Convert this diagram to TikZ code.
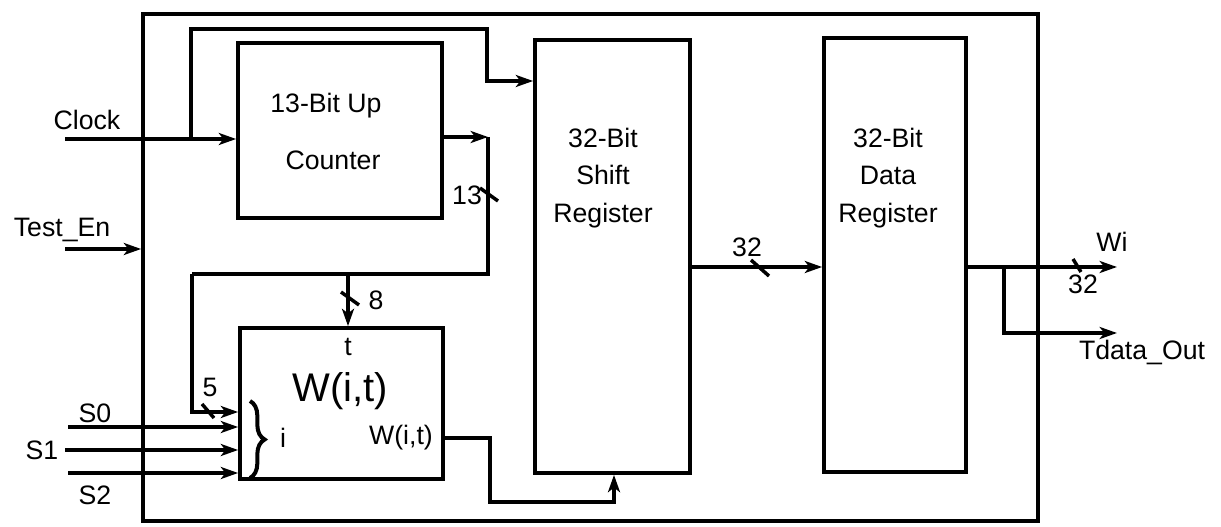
\documentclass[tikz,border=0pt]{standalone}
\usepackage{fontspec}
\setmainfont{Liberation Sans}
\usetikzlibrary{arrows.meta,fit,calc,decorations.pathreplacing}
\begin{document}
\begin{tikzpicture}[x=0.75pt,y=-0.75pt,line width=2.8pt,
  box/.style={draw,line width=2.8pt,inner sep=0pt,fit={#1}},
  arr/.style={-{Stealth[length=13pt,width=9pt,inset=3.5pt]}},
  lbl/.style={font=\fontsize{20}{24}\selectfont,inner sep=0pt},
  blk/.style={font=\fontsize{20}{28}\selectfont,inner sep=0pt,align=center},
  tick/.style={line width=2.6pt}]
\useasboundingbox (0,0) rectangle (1221,527);
% boxes
\node[box={(143,14) (1038,521)}] (outer) {};
\node[box={(238,43) (442,218)}] (cnt) {};
\node[box={(535,40) (690,473)}] (shift) {};
\node[box={(824,38) (966,472)}] (data) {};
\node[box={(240,328) (443,479)}] (wbox) {};
% block texts
\node[lbl] (cnt1) at (326,106) {13-Bit Up};
\node[lbl] (cnt2) at (333,160) {Counter};
\node[blk] (shtxt) at (603,178) {32-Bit\\ Shift\\ Register};
\node[blk] (datxt) at (888,178) {32-Bit\\ Data\\ Register};
\node[lbl] (tlbl) at (348,347) {t};
\node[font=\fontsize{30}{34}\selectfont,inner sep=0pt] (wbig) at (340,391) {W(i,t)};
\node[lbl] (ilbl) at (283,438) {i};
\node[lbl] (wsmall) at (401,438) {W(i,t)};
% helper coordinates
\coordinate (clk) at (65,139);
\coordinate (b1) at (191,139);
\coordinate (b2) at (191,29);
\coordinate (b3) at (487,29);
\coordinate (b4) at (487,81);
\coordinate (c1) at (442,137);
\coordinate (c2) at (488,137);
\coordinate (c3) at (488,274);
\coordinate (c4) at (192,274);
\coordinate (c5) at (192,412);
\coordinate (c6) at (348,274);
\coordinate (s0) at (68,427);
\coordinate (s1) at (65,450);
\coordinate (s2) at (68,473);
\coordinate (ten) at (65,249);
\coordinate (w1) at (443,438);
\coordinate (w2) at (490,438);
\coordinate (w3) at (490,502);
\coordinate (w4) at (614,502);
\coordinate (sh1) at (690,267);
\coordinate (d1) at (966,267);
\coordinate (d2) at (1004,267);
\coordinate (wiend) at (1117,267);
\coordinate (toend) at (1117,333);
% connectors
\draw[arr] (clk) -- (cnt.west |- clk);
\draw[arr] (b1) -- (b2) -- (b3) -- (b4) -- (shift.west |- b4);
\draw[arr] (c1) -- (c2);
\draw (c2) -- (c3) -- (c4);
\draw[arr] (c4) -- (c5) -- (wbox.west |- c5);
\draw[arr] (c6) -- (wbox.north -| c6);
\draw[arr] (s0) -- (wbox.west |- s0);
\draw[arr] (s1) -- (wbox.west |- s1);
\draw[arr] (s2) -- (wbox.west |- s2);
\draw[arr] (ten) -- (outer.west |- ten);
\draw[arr] (w1) -- (w2) -- (w3) -- (w4) -- (shift.south -| w4);
\draw[arr] (sh1) -- (data.west |- sh1);
\draw[arr] (d1) -- (wiend);
\draw[arr] (d2) |- (toend);
% brace
\draw[line width=3pt,decorate,decoration={brace,amplitude=11pt}] (250,401) -- (250,478);
% bus ticks
\draw[tick] (480,188) -- (498,201);
\draw[tick] (341,292) -- (359,305);
\draw[tick] (202,404) -- (214,418);
\draw[tick] (751,260) -- (769,276);
\draw[tick] (1073,259) -- (1081,272);
% labels
\node[lbl] (lclock) at (87,120) {Clock};
\node[lbl] (ltest) at (62,230) {Test\_En};
\node[lbl] (ls0) at (95,413) {S0};
\node[lbl] (ls1) at (42,450) {S1};
\node[lbl] (ls2) at (95,495) {S2};
\node[lbl] (l5) at (210,387) {5};
\node[lbl] (l8) at (376,300) {8};
\node[lbl] (l13) at (467,195) {13};
\node[lbl] (l32a) at (747,247) {32};
\node[lbl] (lwi) at (1112,242) {Wi};
\node[lbl] (l32b) at (1083,284) {32};
\node[lbl] (ltd) at (1142,352) {Tdata\_Out};
\end{tikzpicture}
\end{document}
